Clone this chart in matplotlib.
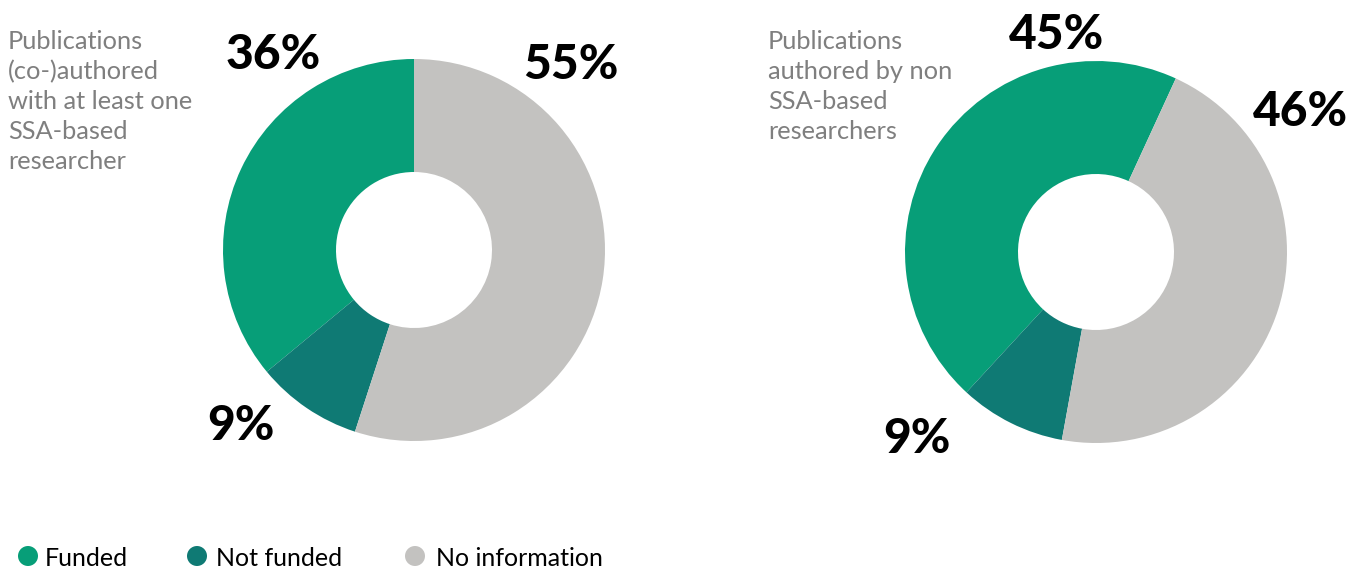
import matplotlib
matplotlib.use("Agg")
import matplotlib.pyplot as plt
from matplotlib.patches import Circle

plt.rcParams['font.family'] = ['Lato', 'DejaVu Sans']

categories = ["Funded", "Not funded", "No information"]
colors = ["#079E78", "#0F7A74", "#C3C2C0"]

ssa_values = [36, 9, 55]
non_ssa_values = [45, 9, 46]

ssa_title = "Publications\n(co-)authored\nwith at least one\nSSA-based\nresearcher"
non_ssa_title = "Publications\nauthored by non\nSSA-based\nresearchers"

W, H = 1363, 569
fig = plt.figure(figsize=(W / 100, H / 100), dpi=100)
ax = fig.add_axes([0, 0, 1, 1])

def donut(values, cx, cy, start, label_pos):
    wedges, _ = ax.pie(values, colors=colors, startangle=start, counterclock=True,
                       center=(cx, H - cy), radius=191, frame=True,
                       wedgeprops=dict(width=113, linewidth=0))
    for v, (lx, ly) in zip(values, label_pos):
        ax.text(lx, H - ly, f"{v}%", fontsize=34.5, fontweight=900,
                color="black", ha="center", va="center")

donut(ssa_values, 414, 250, 90, [(273, 55), (241, 426), (571, 65)])
donut(non_ssa_values, 1096, 252, 65.3, [(1057, 35), (917, 439), (1300, 112)])

ax.text(8, H - 30, ssa_title, fontsize=18.3, color="#7F7F7F", va="top", ha="left",
        linespacing=1.36)
ax.text(768, H - 30, non_ssa_title, fontsize=18.3, color="#7F7F7F", va="top", ha="left",
        linespacing=1.36)

# legend drawn by hand along the bottom edge
for (x, tx), name, c in zip([(28, 45), (197, 216), (415, 436)], categories, colors):
    ax.add_patch(Circle((x, H - 556), 10, color=c, lw=0))
    ax.text(tx, H - 558, name, fontsize=18, color="black", va="center", ha="left")

ax.set_xlim(0, W)
ax.set_ylim(0, H)
ax.set_aspect("equal")
ax.axis("off")

fig.savefig("out.png", dpi=100)
